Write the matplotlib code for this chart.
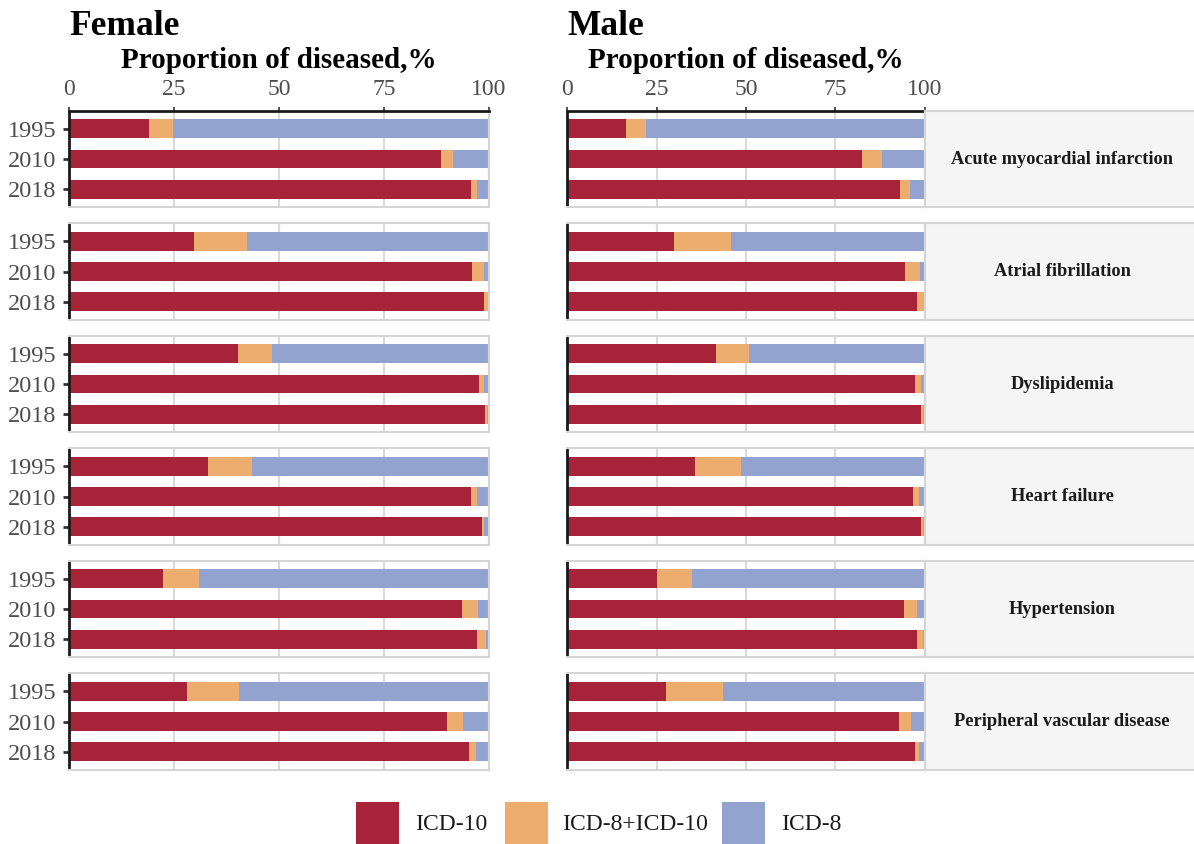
import numpy as np
import matplotlib
matplotlib.use("Agg")
import matplotlib.pyplot as plt
from matplotlib.patches import Rectangle

plt.rcParams['font.family'] = ['Liberation Serif', 'DejaVu Serif']

diseases = ['Acute myocardial infarction', 'Atrial fibrillation', 'Dyslipidemia',
            'Heart failure', 'Hypertension', 'Peripheral vascular disease']
years = ['1995', '2010', '2018']
codes = ['ICD-10', 'ICD-8+ICD-10', 'ICD-8']
colors = ['#A6233A', '#EDAD6E', '#93A3D0']

# rows = diseases, columns = years
female_icd10 = [[19.0, 88.6, 95.6], [29.8, 96.0, 98.8], [40.2, 97.6, 99.0],
                [33.1, 95.7, 98.3], [22.4, 93.6, 97.1], [28.1, 90.0, 95.2]]
female_both = [[5.8, 2.8, 1.5], [12.6, 2.8, 1.0], [8.1, 1.2, 0.5],
               [10.5, 1.4, 0.5], [8.6, 3.8, 2.2], [12.4, 3.8, 1.6]]
female_icd8 = [[75.2, 8.6, 2.9], [57.6, 1.2, 0.2], [51.7, 1.2, 0.5],
               [56.4, 2.9, 1.2], [69.0, 2.6, 0.7], [59.5, 6.2, 3.2]]

male_icd10 = [[16.4, 82.5, 93.1], [29.9, 94.4, 97.8], [41.6, 97.2, 98.9],
              [35.8, 96.6, 98.9], [25.1, 94.1, 97.8], [27.6, 92.7, 97.1]]
male_both = [[5.6, 5.6, 2.6], [15.9, 4.2, 1.9], [9.2, 1.7, 0.5],
             [12.8, 1.7, 0.5], [9.8, 3.7, 1.6], [15.9, 3.5, 1.3]]
male_icd8 = [[78.0, 11.9, 4.3], [54.2, 1.4, 0.3], [49.2, 1.1, 0.6],
             [51.4, 1.7, 0.6], [65.1, 2.2, 0.6], [56.5, 3.8, 1.6]]

W, H = 1194, 844
fig = plt.figure(figsize=(W / 100, H / 100), dpi=100)


def rect(x0, y0, w, h):
    return [x0 / W, 1 - (y0 + h) / H, w / W, h / H]


def panel(x0, w, row, series, show_years, show_top):
    ax = fig.add_axes(rect(x0, 110.7 + 112.5 * row, w, 96.7))
    y = np.arange(len(years))
    left = np.zeros(len(years))
    for vals, c in zip(series, colors):
        ax.barh(y, vals, left=left, height=0.62, color=c, zorder=2)
        left = left + np.array(vals)
    ax.set_xlim(0, 100)
    ax.set_ylim(2.6, -0.6)
    ax.set_xticks([0, 25, 50, 75, 100])
    ax.grid(axis='x', color='#DADADA', lw=1.5, zorder=0)
    for s in ax.spines.values():
        s.set_color('#D5D5D5')
        s.set_linewidth(1.5)
    ax.spines['left'].set_color('#1A1A1A')
    ax.spines['left'].set_linewidth(2)
    ax.spines['left'].set_capstyle('butt')
    ax.tick_params(axis='x', which='both', bottom=False, labelbottom=False)
    if show_top:
        ax.spines['top'].set_color('#1A1A1A')
        ax.spines['top'].set_linewidth(2)
        ax.tick_params(axis='x', top=True, labeltop=True, length=3, width=1.2,
                       color='#333333', pad=5, labelsize=17, labelcolor='#4D4D4D')
    else:
        ax.tick_params(axis='x', top=False, labeltop=False)
    ax.set_yticks(y)
    if show_years:
        ax.set_yticklabels(years)
        ax.tick_params(axis='y', length=4, width=2, color='#333333', pad=5,
                       labelsize=17.5, labelcolor='#4D4D4D')
    else:
        ax.tick_params(axis='y', length=0, labelleft=False)
    return ax


for i, d in enumerate(diseases):
    panel(69, 420, i, [female_icd10[i], female_both[i], female_icd8[i]], True, i == 0)
    panel(567, 358, i, [male_icd10[i], male_both[i], male_icd8[i]], False, i == 0)
    st = fig.add_axes(rect(925, 110.7 + 112.5 * i, 290, 96.7))
    st.set_facecolor('#F5F5F5')
    st.set_xticks([])
    st.set_yticks([])
    for s in st.spines.values():
        s.set_color('#D5D5D5')
        s.set_linewidth(1.5)
    fig.text(1062 / W, 1 - (110.7 + 112.5 * i + 48.3) / H, d, ha='center', va='center',
             fontsize=13.2, fontweight='bold', color='#1A1A1A')

for name, cx, x0 in [('Female', 279, 69), ('Male', 746, 567)]:
    fig.text(x0 / W, 1 - 35 / H, name, fontsize=25.5, fontweight='bold', va='baseline')
    fig.text(cx / W, 1 - 68 / H, 'Proportion of diseased,%', fontsize=21,
             fontweight='bold', ha='center', va='baseline')

# legend
key_x = [356, 505, 722]
lab_x = [415, 562, 781]
for c, lab, kx, lx in zip(colors, codes, key_x, lab_x):
    fig.patches.append(Rectangle((kx / W, 0), 43 / W, 42 / H, transform=fig.transFigure,
                                 facecolor=c, edgecolor='none'))
    fig.text(lx / W, 1 - 824 / H, lab, fontsize=17, va='center', color='#1A1A1A')

fig.savefig('out.png', dpi=100)
